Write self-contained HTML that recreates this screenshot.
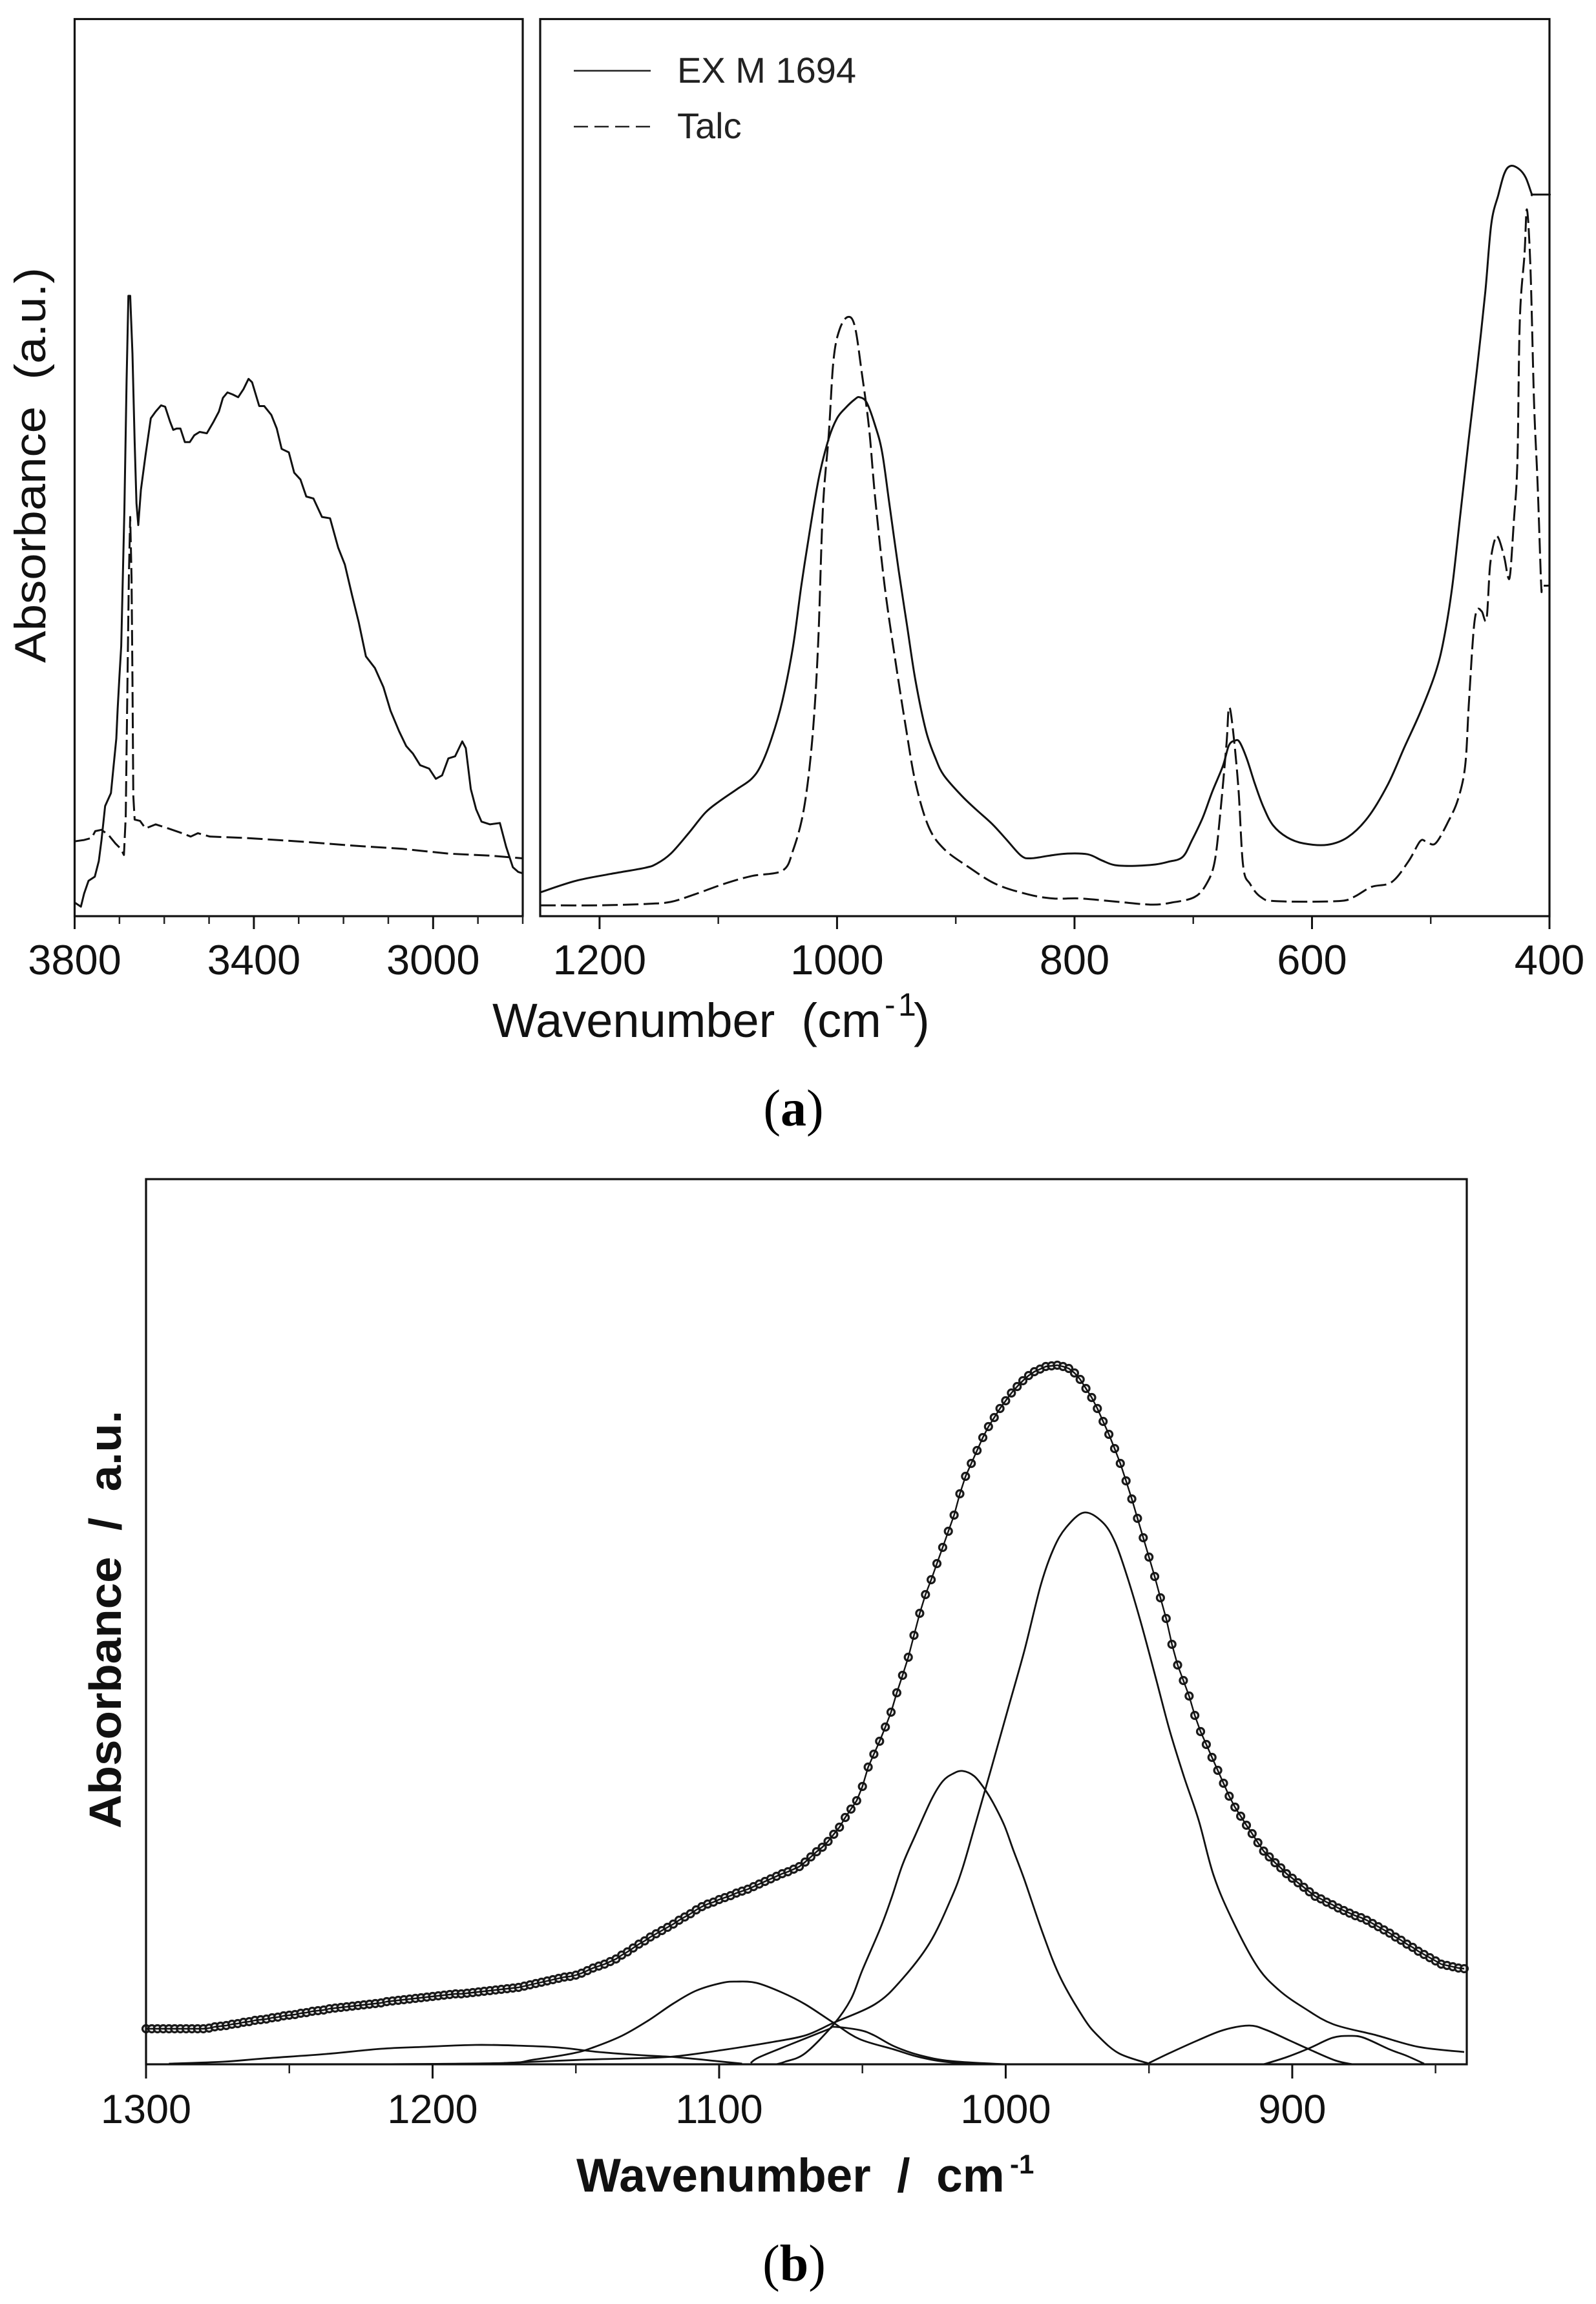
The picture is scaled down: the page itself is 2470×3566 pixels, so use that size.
<!DOCTYPE html>
<html lang="en">
<head>
<meta charset="utf-8">
<title>FTIR absorbance spectra</title>
<style>
  html, body { margin: 0; padding: 0; background: #fff; }
  svg { display: block; font-family: "Liberation Sans", sans-serif; }
</style>
</head>
<body>
<svg id="figure" xmlns="http://www.w3.org/2000/svg" width="2470" height="3566" viewBox="0 0 2470 3566">
  <rect width="2470" height="3566" fill="#fff"/>

  <g id="marks-a-left"></g>
  <g id="marks-a-right"></g>
  <g id="marks-b"></g>

  <text transform="translate(70,1026) rotate(-90)" font-size="68" fill="#111" textLength="612" lengthAdjust="spacingAndGlyphs" xml:space="preserve">Absorbance  (a.u.)</text>
  <text x="762" y="1605" font-size="74" fill="#111" xml:space="preserve">Wavenumber  (cm<tspan x="1369" y="1572" font-size="50">-</tspan><tspan x="1390" y="1572" font-size="50">1</tspan><tspan x="1414" y="1605">)</tspan></text>

  <line x1="888" y1="109.5" x2="1007" y2="109.5" stroke="#222" stroke-width="2.5"/>
  <text x="1048" y="128" font-size="56" fill="#222">EX M 1694</text>
  <line x1="888" y1="196" x2="1007" y2="196" stroke="#222" stroke-width="2.5" stroke-dasharray="22 10"/>
  <text x="1048" y="214" font-size="56" fill="#222">Talc</text>

  <text x="1228" y="1742" text-anchor="middle" font-size="80" font-family="'Liberation Serif', serif" fill="#000">(<tspan font-weight="bold">a</tspan>)</text>

  <text transform="translate(187,2830) rotate(-90)" font-size="70" font-weight="bold" fill="#111" textLength="647" lengthAdjust="spacingAndGlyphs" xml:space="preserve">Absorbance  /  a.u.</text>
  <text x="892" y="3392" font-size="73" font-weight="bold" fill="#111" xml:space="preserve">Wavenumber  /  cm<tspan x="1563" y="3364" font-size="42">-1</tspan></text>

  <text x="1229" y="3530" text-anchor="middle" font-size="80" font-family="'Liberation Serif', serif" fill="#000">(<tspan font-weight="bold">b</tspan>)</text>
</svg>

<script>
// ---------- Panel (a), left: 3800-2800 cm-1 ----------
const aLeftTicksMajor = [3800, 3400, 3000];
const aLeftTicksMinor = [3700, 3600, 3500, 3300, 3200, 3100, 2900, 2800];
const exLeftWn = [3800,3786,3779,3769,3755,3746,3740,3732,3719,3714,3707,3704,3700,3696,3689,3684,3680,3676,3671,3666,3662,3658,3652,3642,3630,3619,3607,3598,3587,3580,3572,3564,3554,3543,3533,3521,3505,3490,3478,3469,3459,3447,3435,3423,3412,3404,3388,3377,3361,3349,3338,3322,3310,3296,3283,3267,3248,3230,3212,3197,3181,3166,3150,3130,3111,3095,3076,3060,3045,3029,3009,2994,2980,2966,2951,2935,2927,2916,2904,2892,2873,2851,2837,2822,2810,2800];
const exLeftAbs = [20,14,33,52,58,81,112,162,181,214,261,305,352,397,597,787,912,912,827,697,607,575,627,677,732,742,751,749,727,715,717,717,697,697,707,712,710,727,742,762,770,767,763,775,790,785,750,750,737,717,687,682,652,642,617,614,587,585,542,517,472,432,382,365,337,302,272,250,239,222,217,202,207,232,235,257,247,187,157,139,135,137,102,72,65,63];
const talcLeftWn = [3800,3779,3762,3754,3740,3724,3709,3697,3690,3686,3682,3679,3676,3673,3671,3669,3666,3654,3642,3619,3591,3560,3541,3525,3498,3420,3302,3185,3068,2966,2873,2800];
const talcLeftAbs = [110,112,115,125,127,119,107,99,90,147,347,497,587,497,347,177,142,140,129,135,129,122,117,122,117,115,110,104,99,92,89,85];

// ---------- Panel (a), right: 1250-400 cm-1 ----------
const aRightTicksMajor = [1200, 1000, 800, 600, 400];
const aRightTicksMinor = [1100, 900, 700, 500];
const exRightWn = [1250,1220,1191,1162,1152,1140,1125,1111,1099,1084,1072,1064,1055,1046,1037,1030,1022,1015,1007,1000,993,985,981,975,968,962,956,948,941,934,925,917,910,895,883,869,857,845,837,821,807,789,777,766,749,732,721,709,701,692,684,675,670,665,661,655,648,641,633,621,607,587,570,553,536,522,508,496,489,482,475,468,461,454,449,443,438,433,426,420,415,414,401,400];
const exRightAbs = [35,52,62,71,77,92,122,152,169,187,202,222,262,317,397,487,577,647,702,732,747,760,763,755,722,682,607,507,427,347,272,232,207,177,157,135,112,89,85,89,92,91,82,75,74,76,80,87,112,145,183,221,251,258,256,232,194,161,134,116,107,105,116,145,194,249,303,358,407,483,592,701,805,919,1018,1061,1092,1103,1099,1086,1062,1061,1061,1061];
const talcRightWn = [1250,1199,1161,1140,1120,1096,1072,1046,1037,1028,1021,1016,1012,1007,1003,998,991,985,979,973,968,960,951,942,934,923,910,889,866,839,818,795,763,735,718,699,689,682,677,672,670,667,662,658,652,643,630,579,565,550,533,519,509,504,496,485,477,471,468,464,461,457,453,450,446,443,438,435,433,430,427,425,421,419,416,413,410,407,406,401,400];
const talcRightAbs = [16,16,18,21,32,47,59,67,97,157,257,397,597,707,817,862,881,867,797,717,617,487,377,277,197,132,99,72,47,32,26,26,21,17,20,28,47,80,156,254,306,281,189,74,47,28,22,22,28,43,50,80,110,110,107,140,172,221,309,418,450,448,437,516,554,556,527,499,505,581,669,876,974,1039,952,756,636,488,486,486,486];

// ---------- Panel (b): 1300-840 cm-1 ----------
const bTicksMajor = [1300, 1200, 1100, 1000, 900];
const bTicksMinor = [1250, 1150, 1050, 950, 850];
const envelopeStartWn = 1300;
const envelopeStepWn = 2;
const envelopeAbs = [
  56,56,56,56,56,56,56,56,56,56,56,
  57,59,60,61,63,64,
  66,67,69,70,71,73,74,76,77,
  78,80,81,83,84,85,87,88,89,
  90,91,92,93,94,95,96,98,99,
  100,101,102,103,104,105,106,107,108,109,110,
  110,111,112,113,114,115,116,117,118,119,
  120,122,124,126,128,130,132,134,136,137,139,
  142,146,150,153,156,160,164,
  170,175,181,187,192,198,203,
  208,213,218,224,229,234,240,245,
  249,252,256,259,262,266,269,272,
  276,280,284,288,292,296,299,303,307,
  314,322,330,337,
  346,357,368,
  383,396,409,431,461,
  481,501,523,546,576,603,631,665,699,728,751,776,801,826,851,884,911,931,951,971,988,1002,1016,1028,1040,1050,1059,1067,1073,1077,1081,1082,1083,1081,1078,1071,1061,1047,1033,1016,996,976,954,931,904,876,846,816,786,756,723,691,651,619,595,571,541,516,496,476,456,436,416,399,385,371,358,344,331,322,313,305,296,289,282,275,268,261,257,252,248,243,239,235,231,228,224,219,214,209,204,198,193,187,182,176,171,166,161,156,154,152,150,149
];
const peak972Wn = [1175,1148,1132,1116,1099,1082,1069.7,1060.2,1045.6,1036.7,1026.5,1018.9,1015.1,1010.7,1004.9,999.2,993.5,987.8,983.4,978.9,972.6,966.2,961.8,957.4,952.9,947.8,942.8,937.7,932.6,927.5,921.2,912.3,904.7,895.8,885.7,870.7,856,840];
const peak972Abs = [3,8,10,13,23,35,46,65,94,130,189,259,304,371,461,551,641,742,798,832,855,840,809,753,686,602,518,445,378,294,227,153,116,88,63,46,28,20];
const peak1016Wn = [1080,1077,1070,1060,1054,1050,1043.7,1039.8,1036,1031.6,1025.9,1022,1018.3,1015,1011,1007.5,1004.3,1000.5,997.3,993.5,987,981,973,968,960.5,950];
const peak1016Abs = [1,5,18,63,102,147,212,259,310,355,411,439,451,455,447,428,405,371,332,287,203,136,74,46,18,2];
const peak1092Wn = [1220,1175,1165,1151,1144,1134,1125,1116,1108,1099,1094,1087,1078,1070,1060,1051,1039,1030,1019,1001];
const peak1092Abs = [1,3,8,18,27,45,68,95,115,127,129,127,112,94,65,40,24,12,4,1];
const peak1180Wn = [1292,1273,1259,1237,1218,1203,1185,1171,1156,1142,1127,1115,1101,1092];
const peak1180Abs = [2,5,10,17,25,28,31,30,27,20,15,12,6,2];
const peak1052Wn = [1089,1086,1075,1062,1060,1051,1046,1039,1030,1019,1000];
const peak1052Abs = [3,12,32,55,59,54,46,29,15,6,1];
const peak917Wn = [950,943,933,924,915,909,901,894,885,879];
const peak917Abs = [3,18,38,54,61,54,38,24,7,1];
const peak878Wn = [910,902,894,886,880,875,866,860,854];
const peak878Abs = [1,12,26,42,45,42,24,14,2];

// ---------- Axis functions ----------
const A_TOP = 29.5, A_BOTTOM = 1418, A_DOMAIN_MAX = 1319;
const B_TOP = 1825, B_BOTTOM = 3196, B_DOMAIN_MAX = 1371;
const NS = 'http://www.w3.org/2000/svg';

function linear(d0, d1, r0, r1) {
  return function (v) { return r0 + (v - d0) * (r1 - r0) / (d1 - d0); };
}
const xALeft = linear(3800, 2800, 115.5, 809);
const xARight = linear(1250, 400, 836, 2398);
const xB = linear(1300, 840, 226, 2266);
const yA = linear(0, A_DOMAIN_MAX, A_BOTTOM, A_TOP);
const yB = linear(0, B_DOMAIN_MAX, B_BOTTOM, B_TOP);

function make(tag, attrs) {
  const node = document.createElementNS(NS, tag);
  for (const k in attrs) node.setAttribute(k, attrs[k]);
  return node;
}

function linearPath(wn, abs, xf, yf) {
  let d = '';
  for (let i = 0; i < wn.length; i++) {
    d += (i ? 'L' : 'M') + xf(wn[i]).toFixed(1) + ' ' + yf(abs[i]).toFixed(1);
  }
  return d;
}

function smoothPath(wn, abs, xf, yf) {
  const p = wn.map(function (w, i) { return [xf(w), yf(abs[i])]; });
  let d = 'M' + p[0][0].toFixed(1) + ' ' + p[0][1].toFixed(1);
  for (let i = 0; i < p.length - 1; i++) {
    const a = p[Math.max(i - 1, 0)], b = p[i], c = p[i + 1], e = p[Math.min(i + 2, p.length - 1)];
    const c1x = b[0] + (c[0] - a[0]) / 6, c1y = b[1] + (c[1] - a[1]) / 6;
    const c2x = c[0] - (e[0] - b[0]) / 6, c2y = c[1] - (e[1] - b[1]) / 6;
    d += 'C' + c1x.toFixed(1) + ' ' + c1y.toFixed(1) + ' ' + c2x.toFixed(1) + ' ' + c2y.toFixed(1) + ' ' + c[0].toFixed(1) + ' ' + c[1].toFixed(1);
  }
  return d;
}

function drawFrame(parent, x0, y0, x1, y1) {
  const frame = make('rect', { x: x0, y: y0, width: x1 - x0, height: y1 - y0, fill: 'none', stroke: '#111', 'stroke-width': 3.2 });
  
  
  parent.appendChild(frame);
}

function drawTicks(parent, ticksMajor, ticksMinor, xf, yBase, lenMajor, lenMinor, labelY, fontSize) {
  ticksMinor.forEach(function (t) {
    const tick = make('line', { x1: xf(t), x2: xf(t), y1: yBase, y2: yBase + lenMinor, stroke: '#222', 'stroke-width': 2.5 });
    
    
    parent.appendChild(tick);
  });
  ticksMajor.forEach(function (t) {
    const tick = make('line', { x1: xf(t), x2: xf(t), y1: yBase, y2: yBase + lenMajor, stroke: '#111', 'stroke-width': 3 });
    
    
    parent.appendChild(tick);
    const label = make('text', { x: xf(t), y: labelY, 'text-anchor': 'middle', 'font-size': fontSize, fill: '#111' });
    label.textContent = String(t);
    
    
    parent.appendChild(label);
  });
}

function drawCurve(parent, d, name, dashed, width) {
  const path = make('path', { d: d, fill: 'none', stroke: '#111', 'stroke-width': width, 'stroke-linejoin': 'round', 'stroke-linecap': 'butt' });
  if (dashed) path.setAttribute('stroke-dasharray', '24 8');
  
  
  parent.appendChild(path);
}

// ---------- Panel (a) left ----------
const gAL = document.getElementById('marks-a-left');
drawCurve(gAL, linearPath(talcLeftWn, talcLeftAbs, xALeft, yA), 'talc-curve-high-wavenumber', true, 3);
drawCurve(gAL, linearPath(exLeftWn, exLeftAbs, xALeft, yA), 'ex-m-1694-curve-high-wavenumber', false, 3);
drawFrame(gAL, 115.5, A_TOP, 809, A_BOTTOM);
drawTicks(gAL, aLeftTicksMajor, aLeftTicksMinor, xALeft, A_BOTTOM, 20, 12, 1508, 65);

// ---------- Panel (a) right ----------
const gAR = document.getElementById('marks-a-right');
drawCurve(gAR, smoothPath(talcRightWn, talcRightAbs, xARight, yA), 'talc-curve-low-wavenumber', true, 3);
drawCurve(gAR, smoothPath(exRightWn, exRightAbs, xARight, yA), 'ex-m-1694-curve-low-wavenumber', false, 3);
drawFrame(gAR, 836, A_TOP, 2398, A_BOTTOM);
drawTicks(gAR, aRightTicksMajor, aRightTicksMinor, xARight, A_BOTTOM, 20, 12, 1508, 65);

// ---------- Panel (b) ----------
const gB = document.getElementById('marks-b');
const componentSeries = [
  ['peak-972-curve', peak972Wn, peak972Abs],
  ['peak-1016-curve', peak1016Wn, peak1016Abs],
  ['peak-1092-curve', peak1092Wn, peak1092Abs],
  ['peak-1180-curve', peak1180Wn, peak1180Abs],
  ['peak-1052-curve', peak1052Wn, peak1052Abs],
  ['peak-917-curve', peak917Wn, peak917Abs],
  ['peak-878-curve', peak878Wn, peak878Abs]
];
componentSeries.forEach(function (s) {
  drawCurve(gB, smoothPath(s[1], s[2], xB, yB), s[0], false, 2.8);
});

const envelopeGroup = make('g', {});


gB.appendChild(envelopeGroup);
const envelopeWn = envelopeAbs.map(function (_, i) { return envelopeStartWn - i * envelopeStepWn; });
envelopeAbs.forEach(function (v, i) {
  const c = make('circle', { cx: xB(envelopeWn[i]).toFixed(1), cy: yB(v).toFixed(1), r: 5.5, fill: '#eee', stroke: '#1a1a1a', 'stroke-width': 3.2 });
  
  
  envelopeGroup.appendChild(c);
});
drawCurve(gB, linearPath(envelopeWn, envelopeAbs, xB, yB), 'fitted-envelope-curve', false, 2.4);

drawFrame(gB, 226, B_TOP, 2270, 3195);
drawTicks(gB, bTicksMajor, bTicksMinor, xB, 3195, 22, 14, 3286, 63);
</script>
</body>
</html>
